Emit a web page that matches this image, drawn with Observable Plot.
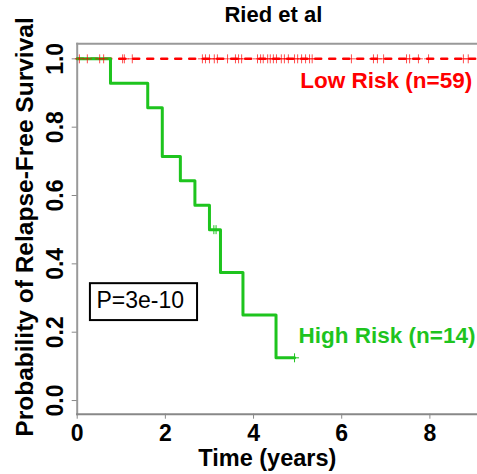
<!DOCTYPE html>
<html>
<head>
<meta charset="utf-8">
<script src="https://cdn.jsdelivr.net/npm/d3@7"></script>
<script src="https://cdn.jsdelivr.net/npm/@observablehq/plot@0.6"></script>
<style>
  html, body { margin: 0; padding: 0; background: white; }
</style>
</head>
<body>
<div id="chart"></div>
<script>
// ---- data ----
const xTicks = [0, 2, 4, 6, 8];
const yTicks = [0, 0.2, 0.4, 0.6, 0.8, 1.0];

// High risk (n=14) Kaplan-Meier step curve
const highTimes = [0, 0.755, 1.60, 1.93, 2.34, 2.67, 3.00, 3.25, 3.76, 4.51, 4.93];
const highSurv  = [1, 0.9286, 0.8571, 0.7143, 0.6429, 0.5714, 0.5, 0.375, 0.25, 0.125, 0.125];
const highCensorTimes = [3.10, 3.15, 4.93];
const highCensorSurv  = [0.5, 0.5, 0.125];

// Low risk (n=59): no events
const lowTimes = [0, 9.05];
const lowSurv  = [1, 1];
const lowCensorTimes = [0.05, 0.23, 0.51, 0.60, 1.03, 1.07, 1.25, 2.84, 2.91, 3.00, 3.11, 3.18,
  3.41, 3.59, 3.66, 3.73, 4.09, 4.16, 4.22, 4.32, 4.38, 4.45, 4.52, 4.63, 4.70, 4.79, 4.93,
  5.00, 5.09, 5.18, 5.27, 5.33, 6.22, 6.72, 6.81, 6.95, 7.47, 7.54, 7.74, 7.97, 8.76, 8.87];

const titleText = "Ried et al";
const xLabel = "Time (years)";
const yLabel = "Probability of Relapse-Free Survival";
const pText = "P=3e-10";
const lowLabel = "Low Risk (n=59)";
const highLabel = "High Risk (n=14)";

// ---- tables built from arrays ----
const high = highTimes.map((t, i) => ({t, s: highSurv[i]}));
const highCens = highCensorTimes.map((t, i) => ({t, s: highCensorSurv[i]}));
const low = lowTimes.map((t, i) => ({t, s: lowSurv[i]}));
const lowCens = lowCensorTimes.map(t => ({t, s: 1}));

const RED = "#ff0000";
const GREEN = "#1ec41e";
const FONT = "'Liberation Sans', Arial, Helvetica, sans-serif";

const chart = Plot.plot({
  width: 477,
  height: 474,
  marginLeft: 76.7,
  marginRight: 0,
  marginTop: 43.3,
  marginBottom: 60.3,
  style: {fontFamily: FONT, background: "white", color: "black"},
  x: {domain: [0, 9.08]},
  y: {domain: [-0.04, 1.044]},
  marks: [
    Plot.frame({anchor: "top", stroke: "#999", strokeWidth: 2}),
    Plot.frame({anchor: "left", stroke: "#999", strokeWidth: 2}),
    Plot.frame({anchor: "bottom", stroke: "#888", strokeWidth: 2}),
    Plot.axisX({ticks: xTicks, tickSize: 5, stroke: "#888", tickFormat: () => "", label: null}),
    Plot.axisY({ticks: yTicks, tickSize: 5, stroke: "#888", tickFormat: () => "", label: null}),
    Plot.text(xTicks, {x: d => d, text: d => String(d), frameAnchor: "bottom", dy: 19.5,
      lineAnchor: "middle", textAnchor: "middle", fontSize: 23, fontWeight: "bold", fill: "black"}),
    Plot.text(yTicks, {y: d => d, text: d => d.toFixed(1), frameAnchor: "left", dx: -22,
      rotate: -90, lineAnchor: "middle", textAnchor: "middle", fontSize: 23, fontWeight: "bold", fill: "black"}),
    Plot.text([yLabel], {text: d => d, frameAnchor: "left", dx: -52, dy: -2, rotate: -90,
      lineAnchor: "middle", textAnchor: "middle", fontSize: 24.5, fontWeight: "bold", fill: "black"}),
    Plot.text([xLabel], {text: d => d, frameAnchor: "bottom", dx: -10, dy: 44.5,
      lineAnchor: "middle", textAnchor: "middle", fontSize: 23.5, fontWeight: "bold", fill: "black"}),
    Plot.text([titleText], {text: d => d, frameAnchor: "top", dx: -4, dy: -29,
      lineAnchor: "middle", textAnchor: "middle", fontSize: 22, fontWeight: "bold", fill: "black"}),
    // low risk
    Plot.line(low, {x: "t", y: "s", stroke: RED, strokeWidth: 2.5, strokeDasharray: "6,8"}),
    // high risk
    Plot.line(high, {x: "t", y: "s", curve: "step-after", stroke: GREEN, strokeWidth: 3}),
    Plot.dot(lowCens, {x: "t", y: "s", symbol: "plus", r: 3, stroke: RED, strokeWidth: 1, strokeOpacity: 0.7}),
    Plot.dot(highCens, {x: "t", y: "s", symbol: "plus", r: 3, stroke: GREEN, strokeWidth: 1}),
    // annotations
    Plot.rect([{x1: 0.30, x2: 2.73, y1: 0.234, y2: 0.342}], {x1: "x1", x2: "x2", y1: "y1", y2: "y2",
      fill: "white", stroke: "black", strokeWidth: 2}),
    Plot.text([pText], {text: d => d, x: 1.43, y: 0.292, textAnchor: "middle", lineAnchor: "middle",
      fontSize: 23, fill: "black"}),
    Plot.text([lowLabel], {text: d => d, x: 5.06, y: 0.9365, textAnchor: "start", lineAnchor: "middle",
      fontSize: 22.5, fontWeight: "bold", fill: RED}),
    Plot.text([highLabel], {text: d => d, x: 5.02, y: 0.189, textAnchor: "start", lineAnchor: "middle",
      fontSize: 22.5, fontWeight: "bold", fill: GREEN})
  ]
});
document.getElementById("chart").appendChild(chart);
</script>
</body>
</html>
